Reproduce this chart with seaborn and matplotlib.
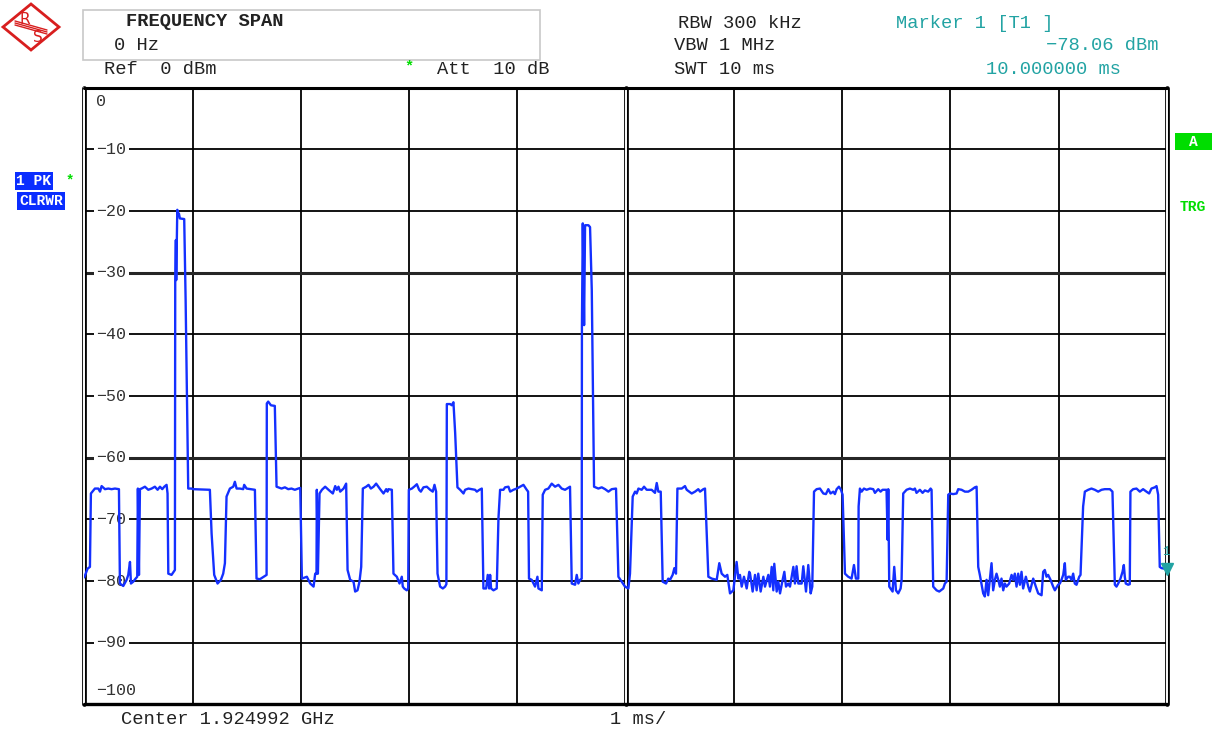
import matplotlib
matplotlib.use("Agg")
import matplotlib.pyplot as plt
import matplotlib.transforms as mtransforms
from matplotlib.patches import Polygon, Rectangle
import seaborn as sns

# ---------------------------------------------------------------------------
# Zero-span sweep: level (dBm) versus time (ms), 1 ms/div, Ref 0 dBm
# ---------------------------------------------------------------------------
time_ms = [
    0.000, 0.030, 0.052, 0.061, 0.098, 0.129, 0.145, 0.160, 0.191, 0.222,
    0.252, 0.283, 0.320, 0.329, 0.360, 0.391, 0.406, 0.422, 0.431, 0.452,
    0.474, 0.489, 0.495, 0.505, 0.514, 0.529, 0.560, 0.591, 0.622, 0.652,
    0.677, 0.699, 0.720, 0.739, 0.760, 0.769, 0.776, 0.806, 0.837, 0.840,
    0.846, 0.849, 0.859, 0.868, 0.874, 0.883, 0.923, 0.936, 0.960, 0.991,
    1.006, 1.160, 1.176, 1.200, 1.231, 1.262, 1.283, 1.299, 1.314, 1.345,
    1.376, 1.391, 1.407, 1.437, 1.468, 1.477, 1.499, 1.576, 1.591, 1.622,
    1.684, 1.686, 1.699, 1.724, 1.760, 1.776, 1.822, 1.853, 1.884, 1.914,
    1.945, 1.976, 1.995,
    2.010, 2.056, 2.087, 2.118, 2.133, 2.145, 2.148, 2.158, 2.173, 2.195,
    2.225, 2.256, 2.296, 2.318, 2.333, 2.348, 2.364, 2.395, 2.419, 2.432,
    2.456, 2.487, 2.502, 2.524, 2.542, 2.558, 2.573, 2.604, 2.626, 2.647,
    2.672, 2.696, 2.733, 2.764, 2.789, 2.801, 2.810, 2.841, 2.856, 2.887,
    2.912, 2.933, 2.942, 2.955, 2.979, 2.992, 2.998, 3.026, 3.047, 3.072,
    3.093, 3.109, 3.133, 3.164, 3.195, 3.219, 3.235, 3.250, 3.263, 3.287,
    3.312, 3.333, 3.345, 3.349, 3.380, 3.395, 3.410, 3.426, 3.447, 3.472,
    3.503, 3.518, 3.549, 3.580, 3.610, 3.626, 3.650, 3.672, 3.687, 3.712,
    3.727, 3.740, 3.749, 3.758, 3.780, 3.810, 3.826, 3.841, 3.872, 3.887,
    3.918, 3.934, 3.964, 3.995, 4.026, 4.057, 4.087, 4.100,
    4.108, 4.133, 4.164, 4.186, 4.195, 4.226, 4.235, 4.257, 4.287, 4.318,
    4.349, 4.380, 4.410, 4.441, 4.487, 4.503, 4.534, 4.549, 4.564, 4.580,
    4.595, 4.597, 4.605, 4.617, 4.626, 4.657, 4.672, 4.688, 4.709, 4.749,
    4.780, 4.811, 4.842, 4.872, 4.912, 4.934, 4.965, 4.995, 5.026, 5.041,
    5.066, 5.088, 5.103, 5.119, 5.149, 5.171, 5.195, 5.241, 5.272, 5.288,
    5.303, 5.325, 5.343, 5.374, 5.395, 5.411, 5.435, 5.451, 5.466, 5.479,
    5.519, 5.549, 5.565, 5.611, 5.642, 5.672, 5.688, 5.719, 5.734, 5.765,
    5.796, 5.842, 5.866, 5.888, 5.919, 5.940, 5.965, 5.996, 6.026, 6.042,
    6.057, 6.073, 6.094, 6.119, 6.143,
    6.150, 6.174, 6.196, 6.211, 6.226, 6.248, 6.273, 6.288, 6.319, 6.334,
    6.350, 6.365, 6.374, 6.396, 6.411, 6.427, 6.451, 6.467, 6.482, 6.503,
    6.519, 6.550, 6.565, 6.580, 6.596, 6.627, 6.642, 6.667, 6.688, 6.710,
    6.725, 6.741, 6.765, 6.796, 6.827, 6.851, 6.873, 6.894, 6.919, 6.934,
    6.950, 6.971, 6.990, 7.005, 7.027, 7.057, 7.088, 7.110, 7.128, 7.150,
    7.153, 7.165, 7.181, 7.202, 7.227, 7.258, 7.288, 7.304, 7.334, 7.356,
    7.374, 7.411, 7.421, 7.427, 7.436, 7.467, 7.482, 7.498, 7.519, 7.541,
    7.550, 7.565, 7.596, 7.627, 7.658, 7.673, 7.688, 7.719, 7.744, 7.765,
    7.796, 7.818, 7.827, 7.842, 7.873, 7.898, 7.935, 7.950, 7.966, 7.981,
    7.996,
    8.027, 8.058, 8.073, 8.104, 8.135, 8.166, 8.196, 8.227, 8.243, 8.258,
    8.273, 8.304, 8.319, 8.335, 8.350, 8.381, 8.396, 8.412, 8.427, 8.443,
    8.458, 8.473, 8.489, 8.504, 8.519, 8.544, 8.566, 8.581, 8.596, 8.612,
    8.627, 8.643, 8.658, 8.673, 8.698, 8.720, 8.735, 8.766, 8.790, 8.812,
    8.843, 8.858, 8.873, 8.889, 8.904, 8.926, 8.950, 8.966, 8.996, 9.012,
    9.027, 9.043, 9.058, 9.067, 9.089, 9.104, 9.120, 9.135, 9.150, 9.166,
    9.191, 9.203, 9.227, 9.243, 9.274, 9.304, 9.335, 9.366, 9.397, 9.427,
    9.474, 9.498, 9.520, 9.535, 9.551, 9.572, 9.591, 9.603, 9.612, 9.621,
    9.643, 9.658, 9.664, 9.689, 9.720, 9.751, 9.781, 9.812, 9.837, 9.858,
    9.889, 9.905, 9.920, 9.935, 9.951, 10.000,
]

level_dbm = [
    -79.4, -78.0, -77.7, -65.8, -65.0, -65.0, -65.5, -64.6, -65.1, -65.0,
    -65.1, -65.0, -65.1, -80.4, -80.8, -79.8, -79.0, -76.9, -80.4, -80.1,
    -79.6, -79.3, -65.0, -79.0, -65.1, -65.0, -64.7, -65.2, -65.0, -64.7,
    -65.2, -64.7, -65.1, -64.7, -64.4, -65.8, -78.8, -79.0, -78.2, -31.2,
    -24.7, -31.2, -19.8, -20.6, -20.4, -21.2, -21.3, -34.4, -65.0, -65.0,
    -65.1, -65.2, -72.3, -79.0, -80.4, -79.8, -78.8, -77.1, -66.3, -65.0,
    -64.7, -63.9, -65.0, -65.0, -65.1, -64.4, -65.0, -65.2, -79.6, -79.7,
    -79.0, -51.2, -50.9, -51.5, -51.6, -64.7, -65.0, -64.8, -65.1, -65.0,
    -65.2, -65.0, -64.9,
    -79.6, -79.3, -80.4, -80.9, -78.8, -78.8, -65.2, -78.8, -65.8, -65.2,
    -64.7, -65.2, -65.8, -64.6, -65.2, -64.7, -65.5, -65.0, -64.2, -78.2,
    -79.8, -80.1, -81.7, -81.5, -80.1, -77.7, -65.0, -64.7, -64.4, -65.0,
    -64.7, -64.2, -65.1, -65.8, -65.1, -65.5, -65.1, -65.2, -78.8, -79.3,
    -80.4, -79.3, -80.9, -81.2, -81.5, -81.2, -65.2, -65.0, -64.7, -64.3,
    -65.2, -65.5, -64.8, -64.7, -65.2, -65.5, -64.4, -65.5, -78.8, -80.9,
    -81.2, -80.9, -80.5, -51.3, -51.3, -51.5, -51.0, -56.0, -64.8, -65.2,
    -65.8, -65.2, -65.0, -65.1, -65.2, -65.5, -65.2, -65.0, -81.2, -81.2,
    -79.0, -81.2, -79.0, -81.2, -81.5, -81.2, -69.8, -65.2, -65.2, -64.8,
    -64.7, -65.5, -65.2, -65.0, -64.7, -64.4, -65.2, -65.5,
    -79.6, -79.8, -80.9, -79.3, -81.2, -81.5, -66.0, -65.2, -65.0, -64.2,
    -64.7, -64.4, -65.0, -65.2, -64.7, -80.4, -80.6, -79.0, -80.4, -79.8,
    -79.6, -38.8, -22.0, -38.5, -22.3, -22.3, -22.6, -32.8, -64.7, -65.0,
    -64.8, -65.1, -65.5, -65.1, -65.0, -79.3, -80.1, -80.9, -81.2, -78.8,
    -66.3, -65.5, -65.8, -65.0, -65.2, -64.7, -65.2, -65.2, -65.7, -64.1,
    -65.5, -65.5, -80.1, -80.4, -79.6, -79.8, -79.0, -77.9, -78.8, -65.0,
    -65.0, -64.6, -65.2, -65.8, -65.5, -65.1, -65.5, -65.1, -65.0, -79.3,
    -79.6, -79.8, -77.1, -78.8, -79.3, -79.0, -82.0, -81.5, -76.9, -79.6,
    -79.0, -80.9, -79.3, -81.2, -78.5,
    -78.8, -81.7, -79.0, -81.5, -78.8, -81.7, -79.3, -80.9, -79.0, -80.9,
    -77.7, -81.5, -77.2, -81.7, -80.1, -82.0, -79.8, -78.5, -80.9, -80.4,
    -80.9, -77.7, -80.4, -77.6, -80.4, -80.4, -77.6, -81.7, -77.4, -82.0,
    -80.9, -65.5, -65.1, -65.0, -65.8, -65.9, -65.1, -65.8, -65.5, -65.9,
    -65.1, -64.7, -65.2, -66.0, -78.8, -79.3, -79.6, -77.4, -79.6, -79.6,
    -67.9, -65.0, -65.5, -65.0, -65.2, -65.0, -65.1, -65.7, -65.1, -65.5,
    -65.2, -65.2, -73.3, -65.1, -80.9, -81.7, -77.7, -81.5, -82.0, -81.2,
    -79.8, -65.8, -65.2, -65.0, -65.2, -65.0, -65.7, -65.2, -65.7, -65.3,
    -65.5, -65.0, -65.2, -80.9, -81.5, -81.7, -81.2, -80.4, -80.1, -66.0,
    -65.8,
    -65.9, -65.8, -65.1, -65.2, -65.5, -65.5, -65.2, -64.8, -64.7, -77.7,
    -79.0, -82.0, -82.5, -79.8, -82.3, -77.1, -81.5, -79.8, -78.8, -79.8,
    -80.9, -79.6, -81.5, -80.4, -80.9, -80.4, -79.0, -79.8, -78.8, -80.9,
    -78.8, -80.6, -78.5, -81.2, -79.3, -80.9, -81.7, -79.6, -80.9, -82.0,
    -82.3, -78.5, -78.2, -79.3, -79.0, -79.8, -80.9, -81.5, -80.6, -80.4,
    -79.8, -79.0, -77.1, -79.8, -79.3, -79.3, -79.8, -78.8, -80.4, -80.6,
    -79.3, -79.0, -67.9, -65.5, -65.2, -65.0, -65.2, -65.5, -65.2, -65.1,
    -65.1, -65.5, -80.6, -80.9, -80.4, -79.6, -78.5, -77.4, -79.3, -80.4,
    -80.6, -80.5, -65.5, -65.1, -65.0, -65.5, -65.1, -65.5, -65.8, -65.0,
    -64.8, -64.6, -66.0, -77.7, -77.9, -78.06,
]

# Graticule: 10 divisions in time, 10 dB per division
grid_time = list(range(0, 11))
grid_level = list(range(0, -101, -10))
level_labels = ["0", "\u221210", "\u221220", "\u221230", "\u221240", "\u221250",
                "\u221260", "\u221270", "\u221280", "\u221290", "\u2212100"]

# Marker 1 readout
marker_time = 10.0
marker_level = -78.06

TRACE = "#1430ff"
TEAL = "#22a3a3"
GREEN = "#00dd00"
BOXBLUE = "#0a2dff"
LOGO = "#d81e1e"
MONO = ["Liberation Mono", "DejaVu Sans Mono"]

sns.set_style("white")
plt.rcParams["font.family"] = MONO

W, H = 1216, 730
fig = plt.figure(figsize=(W / 100, H / 100), dpi=100)
fig.patch.set_facecolor("white")

# pixel (from top-left) -> figure coordinates
PIX = mtransforms.Affine2D().scale(1.0 / W, -1.0 / H).translate(0, 1) + fig.transFigure

left, right, top, bottom = 84.3, 1166.8, 87.7, 704.4
ax = fig.add_axes([left / W, 1 - bottom / H, (right - left) / W, (bottom - top) / H])

sns.lineplot(x=time_ms, y=level_dbm, ax=ax, color=TRACE, lw=1.7,
             sort=False, estimator=None, zorder=6)

ax.set_xlim(0, 10)
ax.set_ylim(-100, 0)
ax.set_xticks(grid_time)
ax.set_yticks(grid_level)
ax.tick_params(length=0, labelbottom=False, labelleft=False)
ax.set_xlabel("")
ax.set_ylabel("")
ax.grid(True, color="black", lw=1.3)
ax.set_axisbelow(True)
for s in ax.spines.values():
    s.set_visible(False)

# heavier graticule lines
for lv in (-30, -60):
    ax.axhline(lv, color="#262626", lw=2.2, zorder=1)

# double lines: left edge, centre division, right edge
for tv in (0, 5, 10):
    ax.axvline(tv, color="black", lw=3.4, zorder=2, clip_on=False)
    ax.axvline(tv, color="white", lw=1.4, zorder=2.5, clip_on=False)
# heavy top and bottom frame
ax.axhline(0, color="black", lw=2.2, zorder=3, clip_on=False)
ax.axhline(-100, color="black", lw=2.4, zorder=3, clip_on=False)

# level labels written inside the graticule
lab_tr = mtransforms.blended_transform_factory(ax.transAxes, ax.transData)
for lv, txt in zip(grid_level, level_labels):
    kw = dict(transform=lab_tr, ha="left", va="center", fontsize=12,
              color="#333333", zorder=4)
    if lv == 0:
        ax.text(0.011, -2.2, txt, **kw)
    elif lv == -100:
        ax.text(0.011, -97.8, txt, **kw)
    else:
        ax.text(0.011, lv, txt,
                bbox=dict(boxstyle="square,pad=0.15", fc="white", ec="none"),
                **kw)

# marker 1 at end of sweep
ax.plot([marker_time], [marker_level], marker="v", ms=9, color=TEAL,
        clip_on=False, zorder=7, linestyle="none")
ax.annotate("1", (marker_time, marker_level), xytext=(-1, 12),
            textcoords="offset points", ha="center", va="center",
            fontsize=9, color=TEAL, zorder=8, annotation_clip=False)

# ---------------------------------------------------------------------------
# Header and footer annotation
# ---------------------------------------------------------------------------
def ptext(x, y, s, **kw):
    kw.setdefault("fontsize", 13.5)
    kw.setdefault("va", "center")
    kw.setdefault("color", "#222222")
    fig.text(x, y, s, transform=PIX, **kw)

# R&S logo
diamond = Polygon([(3, 27), (31, 4), (59, 27), (31, 50)], closed=True,
                  fill=False, ec=LOGO, lw=2.0, transform=PIX)
fig.patches.append(diamond)
for off in (-2.0, 0, 2.0):
    fig.lines.append(plt.Line2D([15, 47], [23 + off, 32 + off], color=LOGO,
                                lw=1.0, transform=PIX))
ptext(25, 19, "R", fontsize=11, color=LOGO, ha="center",
      family=["DejaVu Sans"])
ptext(38, 37, "S", fontsize=11, color=LOGO, ha="center",
      family=["DejaVu Sans"])

# settings box
fig.patches.append(Rectangle((83, 10), 457, 50, fill=False, ec="#c8c8c8",
                             lw=1.2, transform=PIX))
ptext(205, 22, "FREQUENCY SPAN", ha="center", fontweight="bold")
ptext(137, 46, "0 Hz", ha="center")
ptext(160, 69, "Ref  0 dBm", ha="center")
ptext(409, 66, "*", ha="center", color=GREEN, fontsize=11, fontweight="bold")
ptext(493, 69, "Att  10 dB", ha="center")

ptext(740, 23, "RBW 300 kHz", ha="center")
ptext(725, 46, "VBW 1 MHz", ha="center")
ptext(725, 69, "SWT 10 ms", ha="center")

ptext(975, 23, "Marker 1 [T1 ]", ha="center", color=TEAL)
ptext(1158, 46, "\u221278.06 dBm", ha="right", color=TEAL)
ptext(1053, 69, "10.000000 ms", ha="center", color=TEAL)

ptext(228, 720, "Center 1.924992 GHz", ha="center")
ptext(638, 720, "1 ms/", ha="center")

# trace status labels
ptext(34, 181, "1 PK", ha="center", color="white", fontweight="bold",
      fontsize=10.5,
      bbox=dict(boxstyle="square,pad=0.12", fc=BOXBLUE, ec="none"))
ptext(70, 180, "*", ha="center", color=GREEN, fontsize=10, fontweight="bold")
ptext(41, 201, "CLRWR", ha="center", color="white", fontweight="bold",
      fontsize=10.5,
      bbox=dict(boxstyle="square,pad=0.12", fc=BOXBLUE, ec="none"))

# right side status
fig.patches.append(Rectangle((1175, 133), 37, 17, fc=GREEN, ec="none",
                             transform=PIX))
ptext(1193, 141.5, "A", ha="center", color="white", fontweight="bold",
      fontsize=10.5)
ptext(1193, 207, "TRG", ha="center", color=GREEN, fontweight="bold",
      fontsize=10.5)

fig.savefig("out.png", dpi=100, facecolor="white")
